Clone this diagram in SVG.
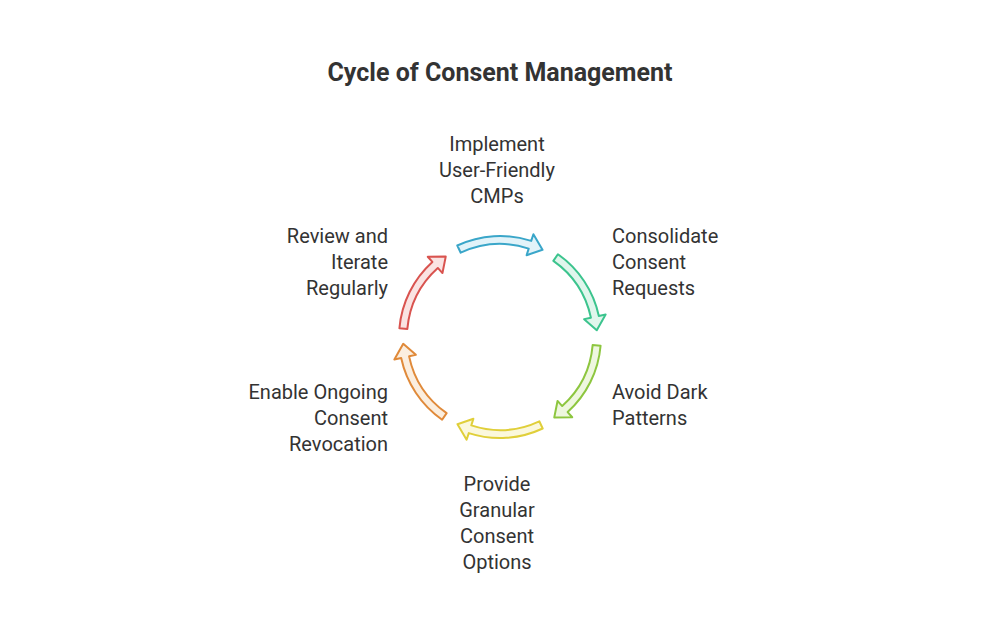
<svg xmlns="http://www.w3.org/2000/svg" width="1000" height="628" viewBox="0 0 1000 628">
<style>
text{font-family:Roboto,"Liberation Sans",sans-serif;font-size:20px;fill:#333}
.t{font-size:25px;font-weight:bold;fill:#333}
.arr{stroke-width:2;stroke-linejoin:round}
</style>
<defs>
<path id="a" d="M457.3,245.5 A101,101 0 0 1 531.2,240.9 L533.4,234.3 L542.5,249.8 L526.6,255.2 L528.7,248.6 A93,93 0 0 0 460.7,252.7 Z"/>
</defs>
<rect width="1000" height="628" fill="#fff"/>
<text class="t" x="500" y="81" text-anchor="middle">Cycle of Consent Management</text>
<g id="connectors">
<use href="#a" class="arr" fill="#e2f3f9" stroke="#3aa6c9"/>
<use href="#a" class="arr" fill="#e0f6ec" stroke="#3cc48e" transform="rotate(60 500 337)"/>
<use href="#a" class="arr" fill="#eef7df" stroke="#8dc63f" transform="rotate(120 500 337)"/>
<use href="#a" class="arr" fill="#fbf8dc" stroke="#e0cf3a" transform="rotate(180 500 337)"/>
<use href="#a" class="arr" fill="#fbeedf" stroke="#e08a3a" transform="rotate(240 500 337)"/>
<use href="#a" class="arr" fill="#fae3e2" stroke="#d9534f" transform="rotate(300 500 337)"/>
</g>
<g id="n1"><text x="497" y="151" text-anchor="middle"><tspan x="497">Implement</tspan><tspan x="497" dy="26">User-Friendly</tspan><tspan x="497" dy="26">CMPs</tspan></text></g>
<g id="n2"><text x="612" y="243"><tspan x="612">Consolidate</tspan><tspan x="612" dy="26">Consent</tspan><tspan x="612" dy="26">Requests</tspan></text></g>
<g id="n3"><text x="612" y="399"><tspan x="612">Avoid Dark</tspan><tspan x="612" dy="26">Patterns</tspan></text></g>
<g id="n4"><text x="497" y="491" text-anchor="middle"><tspan x="497">Provide</tspan><tspan x="497" dy="26">Granular</tspan><tspan x="497" dy="26">Consent</tspan><tspan x="497" dy="26">Options</tspan></text></g>
<g id="n5"><text x="388" y="399" text-anchor="end"><tspan x="388">Enable Ongoing</tspan><tspan x="388" dy="26">Consent</tspan><tspan x="388" dy="26">Revocation</tspan></text></g>
<g id="n6"><text x="388" y="243" text-anchor="end"><tspan x="388">Review and</tspan><tspan x="388" dy="26">Iterate</tspan><tspan x="388" dy="26">Regularly</tspan></text></g>
</svg>
